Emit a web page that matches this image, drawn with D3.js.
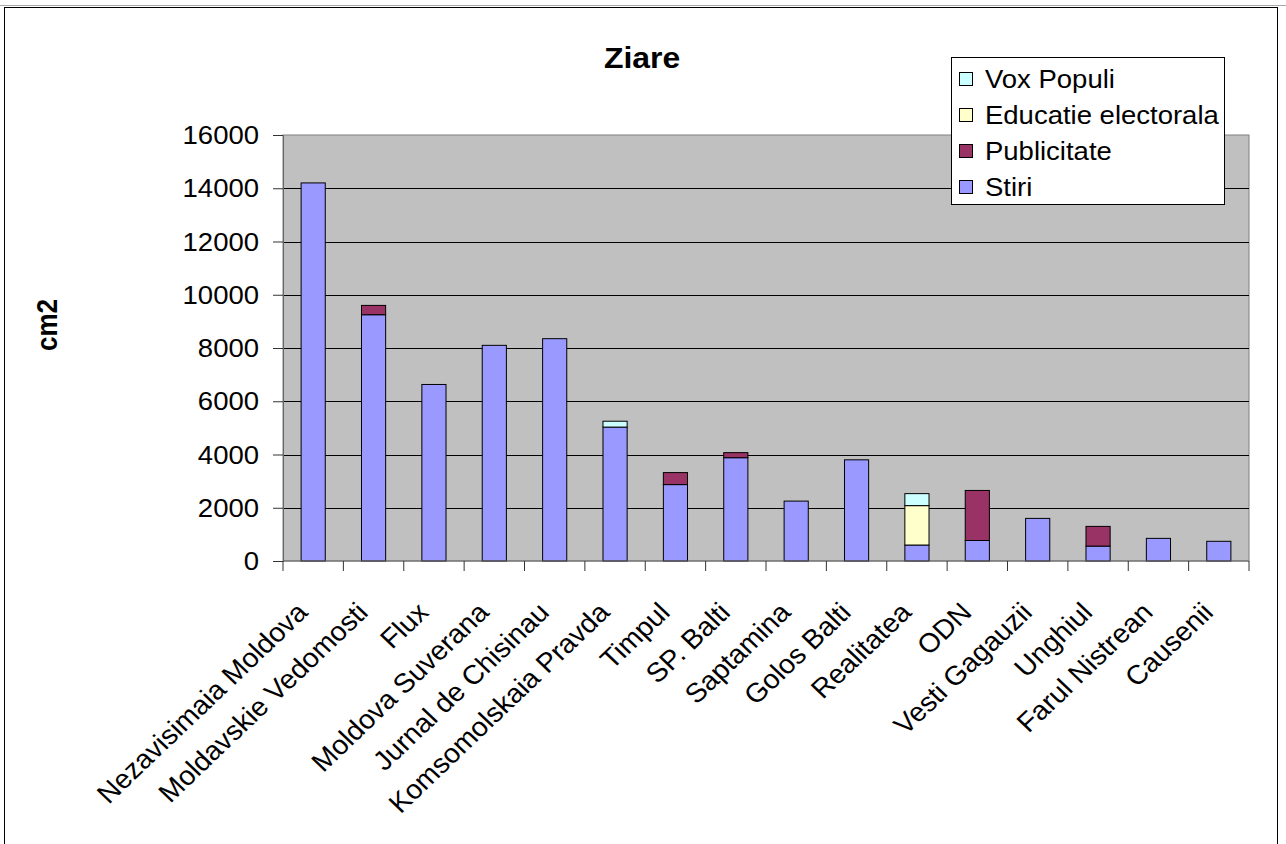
<!DOCTYPE html>
<html>
<head>
<meta charset="utf-8">
<script src="https://cdn.jsdelivr.net/npm/d3@7"></script>
<style>
  body { margin: 0; background: #fff; }
  svg { display: block; font-family: "Liberation Sans", Arial, sans-serif; }
</style>
</head>
<body>
<svg id="chart" width="1286" height="844"></svg>
<script>
var categories = ['Nezavisimaia Moldova', 'Moldavskie Vedomosti', 'Flux', 'Moldova Suverana',
                  'Jurnal de Chisinau', 'Komsomolskaia Pravda', 'Timpul', 'SP. Balti', 'Saptamina',
                  'Golos Balti', 'Realitatea', 'ODN', 'Vesti Gagauzii', 'Unghiul', 'Farul Nistrean', 'Causenii'];
var stiri       = [14200, 9250, 6630, 8100, 8350, 5030, 2870, 3880, 2250, 3800, 600, 770, 1600, 560, 850, 740];
var publicitate = [0, 350, 0, 0, 0, 0, 450, 190, 0, 0, 0, 1880, 0, 740, 0, 0];
var educatie    = [0, 0, 0, 0, 0, 0, 0, 0, 0, 0, 1480, 0, 0, 0, 0, 0];
var voxPopuli   = [0, 0, 0, 0, 0, 220, 0, 0, 0, 0, 450, 0, 0, 0, 0, 0];
var yTicks = [0, 2000, 4000, 6000, 8000, 10000, 12000, 14000, 16000];

var seriesKeys = ['Stiri', 'Publicitate', 'Educatie electorala', 'Vox Populi'];
var colours = { 'Stiri': '#9999FF', 'Publicitate': '#993366', 'Educatie electorala': '#FFFFCC', 'Vox Populi': '#CCFFFF' };

var rows = categories.map(function(c, i) {
  return { name: c, 'Stiri': stiri[i], 'Publicitate': publicitate[i],
           'Educatie electorala': educatie[i], 'Vox Populi': voxPopuli[i] };
});

var svg = d3.select('#chart');
var plot = { left: 283, right: 1249, top: 135, bottom: 561 };
var sx = 1.1;   // the original picture is a bit wider than tall, text looks stretched
var fs = 25;

// outer frame
svg.append('line').attr('x1', 0).attr('x2', 1286).attr('y1', 5.5).attr('y2', 5.5)
   .attr('stroke', '#aaa').attr('stroke-width', 1);
svg.append('rect').attr('x', 4.5).attr('y', 7.5).attr('width', 1273).attr('height', 850)
   .attr('fill', 'none').attr('stroke', '#000');

var x = d3.scaleBand().domain(categories).range([plot.left, plot.right]).padding(0);
var y = d3.scaleLinear().domain([0, 16000]).range([plot.bottom, plot.top]);

svg.append('rect').attr('x', plot.left).attr('y', plot.top)
   .attr('width', plot.right - plot.left).attr('height', plot.bottom - plot.top)
   .attr('fill', '#C0C0C0').attr('stroke', '#808080');

// gridlines
svg.append('g').selectAll('line').data(yTicks.filter(function(d) { return d > 0 && d < 16000; }))
   .enter().append('line')
   .attr('x1', plot.left).attr('x2', plot.right)
   .attr('y1', function(d) { return Math.round(y(d)) + 0.5; })
   .attr('y2', function(d) { return Math.round(y(d)) + 0.5; })
   .attr('stroke', '#000');

// bars
var stack = d3.stack().keys(seriesKeys)(rows);
var barW = x.bandwidth() * 0.4;
svg.append('g').selectAll('g').data(stack).enter().append('g')
   .attr('fill', function(d) { return colours[d.key]; })
   .selectAll('rect').data(function(d) { return d.filter(function(p) { return p[1] - p[0] > 0; }); })
   .enter().append('rect')
   .attr('x', function(d) { return x(d.data.name) + (x.bandwidth() - barW) / 2; })
   .attr('y', function(d) { return y(d[1]); })
   .attr('width', barW)
   .attr('height', function(d) { return y(d[0]) - y(d[1]); })
   .attr('stroke', '#000').attr('stroke-width', 1);

// y axis: ticks from the axis generator, labels drawn stretched
var yAxis = d3.axisLeft(y).tickValues(yTicks).tickSize(10).tickFormat('');
var gy = svg.append('g').attr('transform', 'translate(' + plot.left + ',0)').call(yAxis);
gy.select('.domain').attr('stroke', '#666');
gy.selectAll('.tick line').attr('stroke', '#333');
svg.append('g').selectAll('text').data(yTicks).enter().append('text')
   .attr('transform', function(d) { return 'translate(259,' + y(d) + ') scale(' + sx + ',1)'; })
   .attr('text-anchor', 'end').attr('dy', '0.36em').attr('font-size', fs)
   .text(d3.format('d'));

// x axis
var gx = svg.append('g').attr('transform', 'translate(0,' + plot.bottom + ')');
gx.append('line').attr('x1', plot.left).attr('x2', plot.right).attr('y1', 0).attr('y2', 0).attr('stroke', '#666');
gx.selectAll('.xt').data(d3.range(categories.length + 1)).enter().append('line')
  .attr('x1', function(i) { return plot.left + i * x.step(); })
  .attr('x2', function(i) { return plot.left + i * x.step(); })
  .attr('y1', 0).attr('y2', 10).attr('stroke', '#333');
gx.selectAll('.xl').data(categories).enter().append('text')
  .attr('transform', function(d) {
    return 'translate(' + (x(d) + x.bandwidth() / 2 - 4) + ',53) scale(1.05,1) rotate(-45)';
  })
  .attr('text-anchor', 'end')
  .attr('font-size', 27)
  .text(function(d) { return d; });

// title and axis title
svg.append('text').attr('transform', 'translate(642,68) scale(' + sx + ',1)').attr('text-anchor', 'middle')
   .attr('font-size', 29).attr('font-weight', 'bold').text('Ziare');
svg.append('text').attr('transform', 'translate(57,325) scale(' + sx + ',1) rotate(-90)').attr('text-anchor', 'middle')
   .attr('font-size', 26).attr('font-weight', 'bold').text('cm2');

// legend
var legend = svg.append('g');
legend.append('rect').attr('x', 951.5).attr('y', 57.5).attr('width', 273).attr('height', 147)
      .attr('fill', '#fff').attr('stroke', '#000');
var legItems = seriesKeys.slice().reverse();
var li = legend.selectAll('.li').data(legItems).enter().append('g')
      .attr('transform', function(d, i) { return 'translate(959,' + (79 + i * 36) + ')'; });
li.append('rect').attr('x', 0.5).attr('y', -6.5).attr('width', 13).attr('height', 13)
  .attr('fill', function(d) { return colours[d]; }).attr('stroke', '#000');
li.append('text').attr('transform', 'translate(26,0) scale(' + sx + ',1)')
  .attr('dy', '0.36em').attr('font-size', fs).text(function(d) { return d; });
</script>
</body>
</html>
